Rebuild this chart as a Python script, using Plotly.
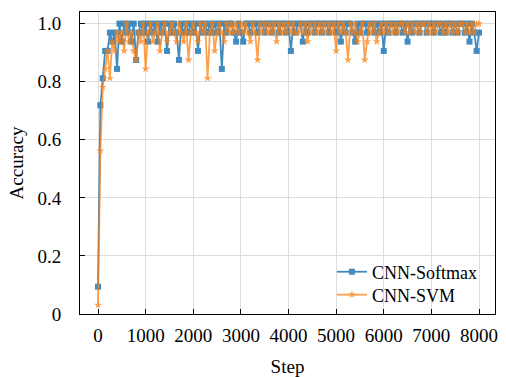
import plotly.graph_objects as go

steps = list(range(0, 8001, 50))

softmax_acc = [
    0.094, 0.719, 0.812, 0.906, 0.906, 0.969, 0.938, 0.969, 0.844, 1.0,
    0.938, 1.0, 0.969, 1.0, 0.938, 1.0, 0.875, 0.969, 1.0, 0.969,
    1.0, 0.938, 1.0, 0.969, 1.0, 0.938, 1.0, 0.969, 1.0, 0.906,
    1.0, 0.969, 1.0, 0.969, 0.875, 1.0, 0.969, 1.0, 0.969, 1.0,
    0.969, 1.0, 0.906, 1.0, 0.969, 1.0, 0.969, 1.0, 0.969, 1.0,
    0.969, 1.0, 0.844, 1.0, 0.969, 1.0, 1.0, 0.969, 0.938, 1.0,
    0.969, 0.938, 1.0, 1.0, 0.969, 1.0, 1.0, 0.969, 1.0, 1.0,
    0.969, 1.0, 1.0, 0.969, 1.0, 1.0, 0.969, 1.0, 1.0, 0.969,
    1.0, 0.906, 1.0, 0.969, 1.0, 1.0, 0.938, 1.0, 0.969, 1.0,
    1.0, 0.969, 1.0, 1.0, 0.969, 1.0, 1.0, 0.969, 1.0, 1.0,
    0.969, 1.0, 0.938, 1.0, 0.969, 1.0, 1.0, 0.969, 0.938, 1.0,
    0.969, 1.0, 1.0, 0.969, 1.0, 1.0, 0.969, 1.0, 0.969, 1.0,
    0.906, 1.0, 0.969, 1.0, 1.0, 0.969, 1.0, 1.0, 0.969, 1.0,
    0.938, 1.0, 0.969, 1.0, 1.0, 0.969, 1.0, 1.0, 0.969, 1.0,
    1.0, 0.969, 1.0, 1.0, 0.969, 1.0, 0.969, 1.0, 1.0, 0.969,
    1.0, 0.969, 1.0, 1.0, 0.969, 1.0, 0.938, 1.0, 0.969, 0.906,
    0.969,
]

svm_acc = [
    0.031, 0.562, 0.781, 0.844, 0.906, 0.812, 0.938, 0.906, 0.969, 0.938,
    0.969, 0.906, 1.0, 0.938, 0.969, 0.906, 0.875, 0.969, 0.938, 1.0,
    0.844, 0.969, 1.0, 0.938, 0.969, 1.0, 0.906, 0.969, 1.0, 0.938,
    0.969, 1.0, 0.969, 0.938, 1.0, 0.969, 0.938, 1.0, 0.875, 0.969,
    1.0, 0.969, 0.938, 1.0, 0.969, 1.0, 0.812, 0.969, 1.0, 0.906,
    0.969, 1.0, 0.969, 0.938, 1.0, 0.969, 1.0, 0.969, 1.0, 0.969,
    1.0, 0.969, 1.0, 0.969, 0.938, 1.0, 0.969, 0.875, 1.0, 0.969,
    1.0, 0.969, 1.0, 0.969, 1.0, 0.938, 1.0, 0.969, 1.0, 0.969,
    1.0, 0.969, 1.0, 0.969, 0.969, 1.0, 0.969, 1.0, 0.938, 1.0,
    0.969, 1.0, 0.969, 1.0, 0.969, 1.0, 0.969, 1.0, 0.969, 1.0,
    0.906, 1.0, 0.969, 1.0, 0.969, 0.875, 1.0, 0.969, 1.0, 0.938,
    0.969, 1.0, 0.875, 0.938, 1.0, 0.969, 1.0, 0.938, 0.969, 1.0,
    0.969, 1.0, 0.969, 1.0, 0.969, 1.0, 0.969, 1.0, 1.0, 0.969,
    1.0, 0.969, 1.0, 0.969, 1.0, 0.969, 1.0, 1.0, 0.969, 1.0,
    0.969, 1.0, 0.969, 1.0, 1.0, 0.969, 1.0, 0.969, 1.0, 0.969,
    1.0, 0.969, 1.0, 1.0, 0.969, 1.0, 0.969, 1.0, 0.969, 1.0,
    1.0,
]

x_ticks = [0, 1000, 2000, 3000, 4000, 5000, 6000, 7000, 8000]
y_ticks = [0, 0.2, 0.4, 0.6, 0.8, 1.0]
y_tick_text = ["0", "0.2", "0.4", "0.6", "0.8", "1.0"]

FONT = "Liberation Serif"
TFONT = dict(family=FONT, size=19, color="black")
LFONT = dict(family=FONT, size=18, color="black")

fig = go.Figure()
fig.add_trace(go.Scatter(
    x=steps, y=softmax_acc, name="CNN-Softmax", mode="lines+markers",
    line=dict(color="#1f77b4", width=1.8),
    marker=dict(symbol="square", size=6, color="#1f77b4"),
    opacity=0.85, legend="legend",
))
fig.add_trace(go.Scatter(
    x=steps, y=svm_acc, name="CNN-SVM", mode="lines+markers",
    line=dict(color="#ff7f0e", width=1.8),
    marker=dict(symbol="star", size=6, color="#ff7f0e"),
    opacity=0.75, legend="legend2",
))

leg_common = dict(
    x=0.607, xanchor="left", yanchor="middle",
    bgcolor="rgba(255,255,255,0)", borderwidth=0,
    font=LFONT, itemwidth=30,
)

fig.update_layout(
    width=506, height=377,
    margin=dict(l=80, r=11, t=12, b=63, autoexpand=False),
    paper_bgcolor="white", plot_bgcolor="white",
    font=TFONT,
    showlegend=True,
    legend=dict(y=0.139, **leg_common),
    legend2=dict(y=0.063, **leg_common),
)
fig.update_xaxes(
    range=[-378, 8336], tickvals=x_ticks, tickfont=TFONT,
    title=dict(text="Step", standoff=14, font=TFONT),
    showline=True, linecolor="black", linewidth=1, mirror=True,
    ticks="inside", ticklen=5, tickcolor="black", automargin=False,
    ticklabelstandoff=4,
    showgrid=True, gridcolor="#dcdcdc", gridwidth=1, zeroline=False,
)
fig.update_yaxes(
    range=[0, 1.04], tickvals=y_ticks, ticktext=y_tick_text, tickfont=TFONT,
    title=dict(text="Accuracy", standoff=8, font=TFONT),
    showline=True, linecolor="black", linewidth=1, mirror=True,
    ticks="inside", ticklen=5, tickcolor="black", automargin=False,
    ticklabelstandoff=14,
    showgrid=True, gridcolor="#dcdcdc", gridwidth=1, zeroline=False,
)

fig.write_html(
    "out.html",
    config={"displayModeBar": False},
    post_script="document.body.style.margin='0';",
)
